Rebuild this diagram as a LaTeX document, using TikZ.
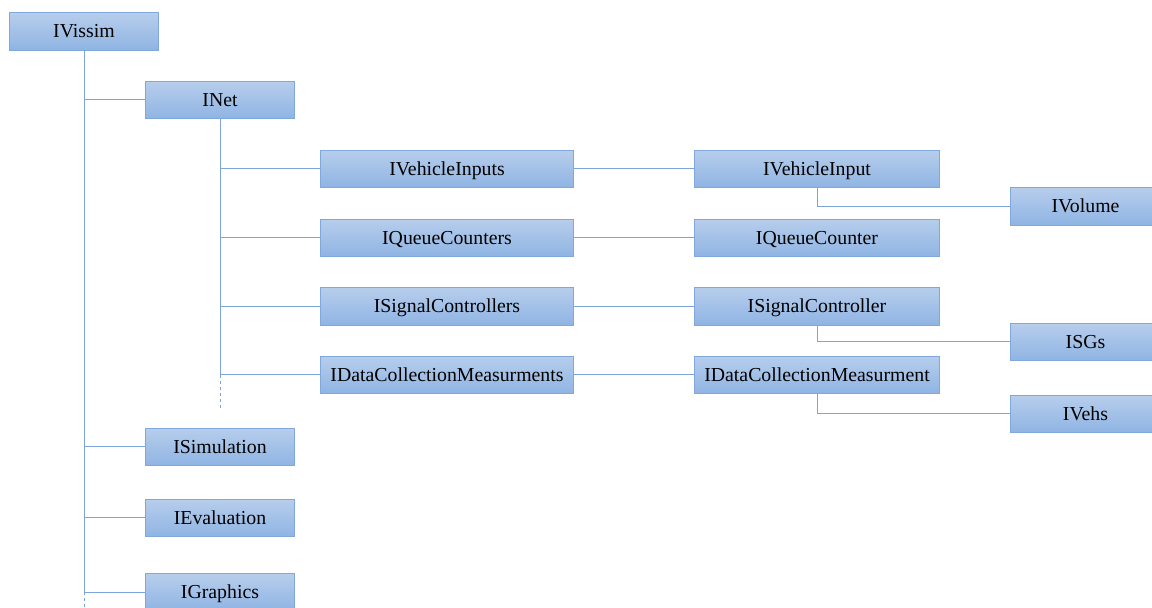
\documentclass[tikz,border=0pt]{standalone}
\usepackage{fontspec}
\setmainfont{Liberation Serif}
\definecolor{boxtop}{RGB}{183,206,236}
\definecolor{boxbot}{RGB}{143,180,227}
\definecolor{boxline}{RGB}{128,168,220}
\definecolor{conn}{RGB}{125,165,218}
\begin{document}
\begin{tikzpicture}[x=1pt,y=-1pt,
  ibox/.style={draw=boxline, line width=1pt, top color=boxtop, bottom color=boxbot,
    minimum height=37.5pt, inner sep=0pt, anchor=north west,
    font=\fontsize{19.8}{22}\selectfont, text depth=1pt, text height=14pt},
  wA/.style={ibox, minimum width=149pt},
  wB/.style={ibox, minimum width=253pt},
  wC/.style={ibox, minimum width=245pt},
  wD/.style={ibox, minimum width=150pt},
  link/.style={draw=conn, line width=1pt},
  dlink/.style={link, dash pattern=on 3pt off 3pt}]
\useasboundingbox (0,0) rectangle (1152,608);
\fill[white] (0,0) rectangle (1152,608);
\node[wA] (vissim) at (9,12) {IVissim};
\node[wA] (inet) at (145,80.5) {INet};
\node[wB] (vinputs) at (320,149.5) {IVehicleInputs};
\node[wC] (vinput) at (694,149.5) {IVehicleInput};
\node[wD] (volume) at (1010,187) {IVolume};
\node[wB] (qcounters) at (320,218.5) {IQueueCounters};
\node[wC] (qcounter) at (694,218.5) {IQueueCounter};
\node[wB] (sigctrls) at (320,287) {ISignalControllers};
\node[wC] (sigctrl) at (694,287) {ISignalController};
\node[wD] (sgs) at (1010,322.5) {ISGs};
\node[wB] (dcms) at (320,355.5) {IDataCollectionMeasurments};
\node[wC] (dcm) at (694,355.5) {IDataCollectionMeasurment};
\node[wD] (vehs) at (1010,394.5) {IVehs};
\node[wA] (sim) at (145,427.5) {ISimulation};
\node[wA] (eval) at (145,498.5) {IEvaluation};
\node[wA] (graphics) at (145,573) {IGraphics};
% IVissim trunk and children
\draw[link] (vissim.south) -- (vissim.south |- graphics.west);
\foreach \c in {inet,sim,eval,graphics}
  \draw[link] (vissim.south |- \c.west) -- (\c.west);
\coordinate (vend) at (vissim.south |- 0,608);
\draw[dlink] (vissim.south |- graphics.west) -- (vend);
% INet trunk and children
\draw[link] (inet.south) -- (inet.south |- dcms.west);
\foreach \c in {vinputs,qcounters,sigctrls,dcms}
  \draw[link] (inet.south |- \c.west) -- (\c.west);
\coordinate (nend) at (inet.south |- 0,408);
\draw[dlink] (inet.south |- dcms.west) -- (nend);
% collections to items
\draw[link] (vinputs.east) -- (vinput.west);
\draw[link] (qcounters.east) -- (qcounter.west);
\draw[link] (sigctrls.east) -- (sigctrl.west);
\draw[link] (dcms.east) -- (dcm.west);
% items to sub-items
\draw[link] (vinput.south) |- (volume.west);
\draw[link] (sigctrl.south) |- (sgs.west);
\draw[link] (dcm.south) |- (vehs.west);
\end{tikzpicture}
\end{document}
